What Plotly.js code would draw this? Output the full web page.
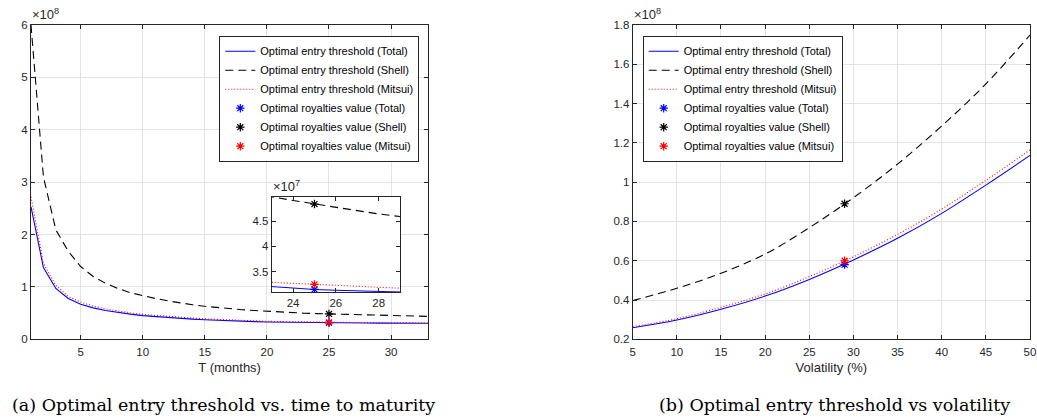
<!DOCTYPE html>
<html>
<head>
<meta charset="utf-8">
<script src="https://cdn.plot.ly/plotly-3.0.1.min.js"></script>
<style>
  html, body { margin: 0; padding: 0; background: #ffffff; }
  #chart { width: 1037px; height: 418px; }
</style>
</head>
<body>
<div id="chart"></div>
<script>
// ---------- Data (values in units of 1e8) ----------
// Panel (a): time to maturity T (months)
const monthsT = [1,2,3,4,5,6,7,8,9,10,11,12,13,14,15,16,17,18,19,20,21,22,23,24,25,26,27,28,29,30,31,32,33];
const totalT  = [2.53,1.37,0.97,0.78,0.67,0.60,0.55,0.51,0.48,0.452,0.432,0.415,0.40,0.385,0.372,0.361,0.352,0.344,0.337,0.331,0.327,0.3235,0.3204,0.3175,0.315,0.3135,0.312,0.3105,0.3094,0.3085,0.3075,0.3065,0.3055];
const shellT  = [6.0,3.1,2.09,1.68,1.39,1.20,1.07,0.97,0.89,0.83,0.78,0.735,0.695,0.66,0.63,0.605,0.585,0.565,0.55,0.535,0.523,0.51,0.498,0.4905,0.4835,0.477,0.4705,0.464,0.4585,0.453,0.448,0.443,0.438];
const mitsuiT = [2.72,1.45,1.03,0.82,0.71,0.635,0.58,0.54,0.505,0.475,0.455,0.437,0.42,0.405,0.39,0.378,0.368,0.359,0.351,0.344,0.338,0.333,0.329,0.327,0.325,0.323,0.321,0.3185,0.317,0.3155,0.314,0.3125,0.311];
const royaltyT = [25];
const royaltyTotalT  = [0.315];
const royaltyShellT  = [0.4835];
const royaltyMitsuiT = [0.325];

// Panel (b): volatility (%)
const volatility = [5,10,15,20,25,30,35,40,45,50];
const totalV  = [0.259,0.298,0.353,0.420,0.505,0.604,0.714,0.841,0.985,1.136];
const shellV  = [0.397,0.460,0.536,0.634,0.768,0.921,1.092,1.286,1.500,1.749];
const mitsuiV = [0.264,0.305,0.363,0.431,0.519,0.620,0.734,0.863,1.009,1.164];
const royaltyV = [29];
const royaltyTotalV  = [0.58];
const royaltyShellV  = [0.89];
const royaltyMitsuiV = [0.60];

// Tick labels
const ticksXA = [5,10,15,20,25,30];
const ticksYA = [0,1,2,3,4,5,6];
const ticksXB = [5,10,15,20,25,30,35,40,45,50];
const ticksYB = [0.2,0.4,0.6,0.8,1,1.2,1.4,1.6,1.8];
const ticksXInset = [24,26,28];
const ticksYInset = [3.5,4,4.5];

// Labels
const seriesNames = [
  'Optimal entry threshold (Total)',
  'Optimal entry threshold (Shell)',
  'Optimal entry threshold (Mitsui)',
  'Optimal royalties value (Total)',
  'Optimal royalties value (Shell)',
  'Optimal royalties value (Mitsui)'
];
const captionA = '(a) Optimal entry threshold vs. time to maturity';
const captionB = '(b) Optimal entry threshold vs volatility';
const xTitleA = 'T (months)';
const xTitleB = 'Volatility (%)';

// ---------- Helpers ----------
const W = 1037, H = 418;
const px = v => v / W;
const py = v => 1 - v / H;
const toE7 = arr => arr.map(v => v * 10);

const SANS = 'Liberation Sans, Arial, Helvetica, sans-serif';
const BLUE = '#0000ff', BLACK = '#000000', RED = '#ff0000';
const lineStyles = [
  {color: BLUE, width: 1.1, dash: 'solid'},
  {color: BLACK, width: 1.1, dash: '8px,5px'},
  {color: RED, width: 1.1, dash: '1px,2px'}
];
const markerColors = [BLUE, BLACK, RED];

function lineTrace(x, y, i, xa, ya, legend, show, shape) {
  return {x, y, type: 'scatter', mode: 'lines', name: seriesNames[i],
    xaxis: xa, yaxis: ya, legend: legend, showlegend: show,
    line: Object.assign({shape: shape || 'linear'}, lineStyles[i]), hoverinfo: 'skip'};
}
function markTrace(x, y, i, xa, ya, legend, show) {
  return {x, y, type: 'scatter', mode: 'markers', name: seriesNames[i + 3],
    xaxis: xa, yaxis: ya, legend: legend, showlegend: show,
    marker: {symbol: 'asterisk-open', size: 7, color: markerColors[i], line: {color: markerColors[i], width: 1.2}},
    hoverinfo: 'skip'};
}

const traces = [
  // Panel (a)
  lineTrace(monthsT, totalT, 0, 'x', 'y', 'legend', true),
  lineTrace(monthsT, shellT, 1, 'x', 'y', 'legend', true),
  lineTrace(monthsT, mitsuiT, 2, 'x', 'y', 'legend', true),
  markTrace(royaltyT, royaltyTotalT, 0, 'x', 'y', 'legend', true),
  markTrace(royaltyT, royaltyShellT, 1, 'x', 'y', 'legend', true),
  markTrace(royaltyT, royaltyMitsuiT, 2, 'x', 'y', 'legend', true),
  // Inset of panel (a), values in 1e7
  lineTrace(monthsT, toE7(totalT), 0, 'x3', 'y3', 'legend', false),
  lineTrace(monthsT, toE7(shellT), 1, 'x3', 'y3', 'legend', false),
  lineTrace(monthsT, toE7(mitsuiT), 2, 'x3', 'y3', 'legend', false),
  markTrace(royaltyT, toE7(royaltyTotalT), 0, 'x3', 'y3', 'legend', false),
  markTrace(royaltyT, toE7(royaltyShellT), 1, 'x3', 'y3', 'legend', false),
  markTrace(royaltyT, toE7(royaltyMitsuiT), 2, 'x3', 'y3', 'legend', false),
  // Panel (b)
  lineTrace(volatility, totalV, 0, 'x2', 'y2', 'legend2', true, 'spline'),
  lineTrace(volatility, shellV, 1, 'x2', 'y2', 'legend2', true, 'spline'),
  lineTrace(volatility, mitsuiV, 2, 'x2', 'y2', 'legend2', true, 'spline'),
  markTrace(royaltyV, royaltyTotalV, 0, 'x2', 'y2', 'legend2', true),
  markTrace(royaltyV, royaltyShellV, 1, 'x2', 'y2', 'legend2', true),
  markTrace(royaltyV, royaltyMitsuiV, 2, 'x2', 'y2', 'legend2', true)
];

const AX = '#262626', GRID = '#e3e3e3';
const tickFont = {family: SANS, size: 11.5, color: AX};
function axis(extra) {
  return Object.assign({
    showline: true, linecolor: AX, linewidth: 1, mirror: 'ticks',
    ticks: 'inside', ticklen: 4, tickcolor: AX, tickwidth: 1,
    showgrid: true, gridcolor: GRID, gridwidth: 1, zeroline: false,
    tickfont: tickFont, fixedrange: true
  }, extra);
}

const yDom = [py(339.3), py(25)];
const titleFont = {family: SANS, size: 13, color: AX};
const legendFont = {family: SANS, size: 11, color: '#000000'};
const expFont = {family: SANS, size: 13, color: AX};
const capFont = {family: 'DejaVu Serif, Liberation Serif, serif', size: 17.5, color: '#000000'};

const layout = {
  width: W, height: H,
  margin: {l: 0, r: 0, t: 0, b: 0},
  paper_bgcolor: '#ffffff', plot_bgcolor: '#ffffff',
  showlegend: true,
  xaxis: axis({domain: [px(31), px(428.3)], range: [1, 33], tickvals: ticksXA, anchor: 'y', ticklabelstandoff: 2,
    title: {text: xTitleA, font: titleFont, standoff: 5}}),
  yaxis: axis({domain: yDom, range: [0, 6], tickvals: ticksYA, anchor: 'x'}),
  xaxis2: axis({domain: [px(632.7), px(1030)], range: [5, 50], tickvals: ticksXB, anchor: 'y2', ticklabelstandoff: 2,
    title: {text: xTitleB, font: titleFont, standoff: 5}}),
  yaxis2: axis({domain: yDom, range: [0.2, 1.8], tickvals: ticksYB, anchor: 'x2'}),
  xaxis3: axis({domain: [px(271.7), px(400)], range: [23, 29], tickvals: ticksXInset, anchor: 'y3', showgrid: false}),
  yaxis3: axis({domain: [py(292.3), py(196.7)], range: [3.094, 4.98], tickvals: ticksYInset, anchor: 'x3', showgrid: false}),
  legend: {x: px(419.3), xanchor: 'right', y: py(35.7), yanchor: 'top',
    bgcolor: '#ffffff', bordercolor: AX, borderwidth: 1, font: legendFont, tracegroupgap: 0},
  legend2: {x: px(642.7), xanchor: 'left', y: py(35.7), yanchor: 'top',
    bgcolor: '#ffffff', bordercolor: AX, borderwidth: 1, font: legendFont, tracegroupgap: 0},
  annotations: [
    {text: '×10<sup>8</sup>', xref: 'paper', yref: 'paper', x: px(30), y: py(24), xanchor: 'left', yanchor: 'bottom',
      showarrow: false, font: expFont},
    {text: '×10<sup>8</sup>', xref: 'paper', yref: 'paper', x: px(631.5), y: py(24), xanchor: 'left', yanchor: 'bottom',
      showarrow: false, font: expFont},
    {text: '×10<sup>7</sup>', xref: 'paper', yref: 'paper', x: px(270.5), y: py(196), xanchor: 'left', yanchor: 'bottom',
      showarrow: false, font: expFont},
    {text: captionA, xref: 'paper', yref: 'paper', x: px(10), y: py(404.7), xanchor: 'left', yanchor: 'middle',
      showarrow: false, font: capFont},
    {text: captionB, xref: 'paper', yref: 'paper', x: px(657), y: py(404.7), xanchor: 'left', yanchor: 'middle',
      showarrow: false, font: capFont}
  ]
};

Plotly.newPlot('chart', traces, layout, {staticPlot: true, displayModeBar: false});
</script>
</body>
</html>
